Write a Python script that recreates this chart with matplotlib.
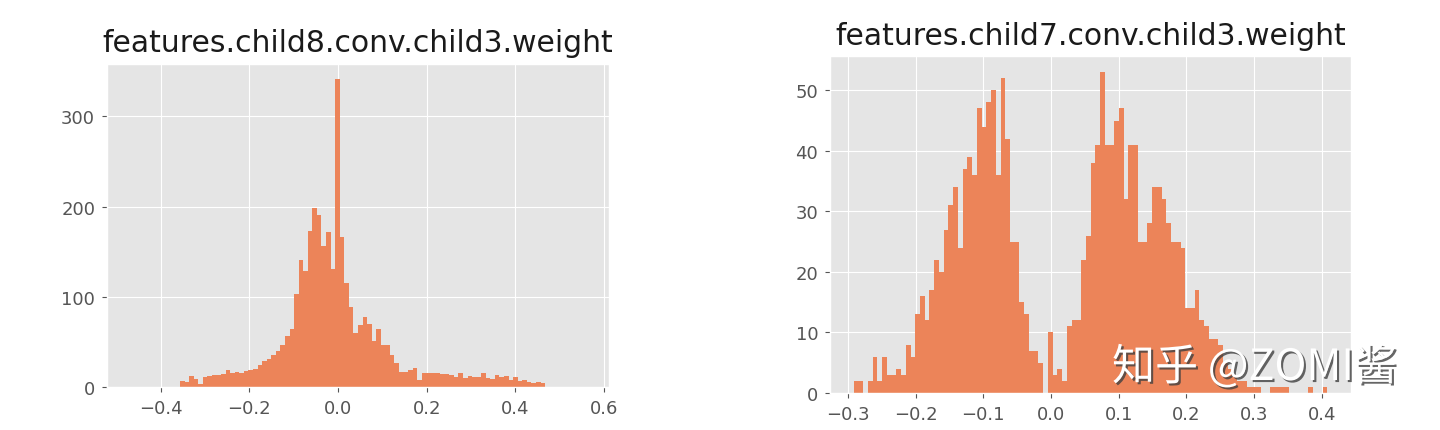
import numpy as np
from matplotlib import pyplot as plt
from matplotlib.ticker import MultipleLocator
import matplotlib.patheffects as pe

# weight histograms, 100 bins each (counts)
left_title = "features.child8.conv.child3.weight"
left_range = (-0.470, 0.560)
left_counts = [0] * 11 + [
    7, 5, 12, 9, 3, 11, 12, 13, 13, 14,
    19, 16, 17, 15, 18, 19, 20, 24, 29, 31,
    35, 40, 46, 57, 64, 103, 141, 129, 173, 198,
    191, 156, 172, 131, 341, 166, 115, 89, 60, 69,
    78, 70, 51, 64, 46, 46, 35, 27, 17, 17,
    19, 21, 8, 16, 16, 15, 15, 14, 14, 13,
    11, 16, 10, 12, 11, 11, 15, 10, 9, 13,
    11, 12, 8, 11, 7, 8, 5, 4, 6, 4,
] + [0] * 9

right_title = "features.child7.conv.child3.weight"
right_range = (-0.2916, 0.4084)
right_counts = [
    2, 2, 0, 2, 6, 2, 6, 3, 3, 4,
    3, 8, 6, 13, 16, 12, 17, 22, 20, 27,
    31, 34, 24, 37, 39, 36, 47, 44, 48, 50,
    36, 52, 42, 25, 25, 15, 13, 7, 7, 5,
    0, 10, 3, 4, 2, 11, 12, 12, 22, 26,
    38, 41, 53, 41, 41, 45, 47, 32, 41, 41,
    25, 25, 28, 34, 34, 32, 28, 25, 25, 24,
    14, 14, 17, 12, 11, 9, 9, 8, 5, 4,
    3, 2, 2, 1, 1, 1, 0, 0, 1, 1,
    1, 1, 0, 0, 0, 0, 1, 0, 0, 1,
]

bar_color = '#EC8459'


def draw(ax, counts, rng, title, ystep):
    edges = np.linspace(rng[0], rng[1], len(counts) + 1)
    ax.hist(edges[:-1], bins=edges, weights=counts, color=bar_color)
    ax.set_title(title, fontsize=21.5, color='#1a1a1a', pad=9)
    ax.yaxis.set_major_locator(MultipleLocator(ystep))
    ax.tick_params(labelsize=13, pad=5)


def main():
    plt.style.use('ggplot')
    fig = plt.figure(figsize=(14.4, 4.31), dpi=100)

    ax1 = fig.add_axes([0.0743, 0.0998, 0.3486, 0.7494])
    draw(ax1, left_counts, left_range, left_title, 100)

    ax2 = fig.add_axes([0.5764, 0.0858, 0.3618, 0.7819])
    draw(ax2, right_counts, right_range, right_title, 10)

    # site watermark
    fig.text(1112 / 1440, 40 / 431, "知乎 @ZOMI酱", fontsize=31, color='white',
             family=['Noto Sans CJK SC', 'DejaVu Sans'], ha='left', va='bottom',
             path_effects=[pe.SimplePatchShadow(offset=(1.5, -1.5), shadow_rgbFace='0.25', alpha=0.8),
                           pe.Normal()])

    fig.savefig("out.png", dpi=100)


if __name__ == "__main__":
    main()
